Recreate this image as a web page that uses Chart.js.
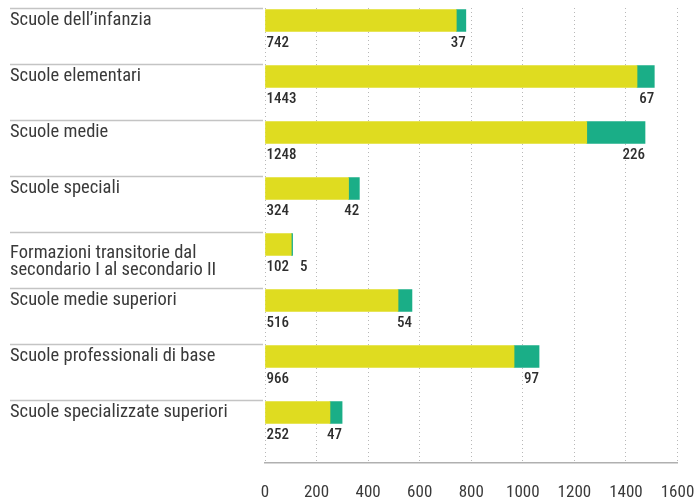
<!DOCTYPE html>
<html>
<head>
<meta charset="utf-8">
<script src="https://cdn.jsdelivr.net/npm/chart.js@4.4.1/dist/chart.umd.min.js"></script>
<style>
  html, body { margin: 0; padding: 0; background: #fff; }
  #wrap { width: 696px; height: 501px; position: relative; }
</style>
</head>
<body>
<div id="wrap"><canvas id="chart"></canvas></div>
<script>
// categories (two-line label padded with blank lines so it hangs below the bar centre)
const categories = [
    'Scuole dell’infanzia',
    'Scuole elementari',
    'Scuole medie',
    'Scuole speciali',
    ['', '', 'Formazioni transitorie dal', 'secondario I al secondario II'],
    'Scuole medie superiori',
    'Scuole professionali di base',
    'Scuole specializzate superiori'
];
const yellowValues = [742, 1443, 1248, 324, 102, 516, 966, 252];
const greenValues = [37, 67, 226, 42, 5, 54, 97, 47];
const xTicks = [0, 200, 400, 600, 800, 1000, 1200, 1400, 1600];

const FONT = "'Roboto Condensed', 'Liberation Sans Narrow', 'DejaVu Sans Condensed', 'Roboto', sans-serif";
const TEXT = '#3a3a3a';

// separators above each row + value labels under each bar
const rowDecor = {
    id: 'rowDecor',
    afterDatasetsDraw(chart) {
        const ctx = chart.ctx;
        const yellowMeta = chart.getDatasetMeta(0);
        const greenMeta = chart.getDatasetMeta(1);
        ctx.save();
        yellowMeta.data.forEach((bar, i) => {
            const top = bar.y - bar.height / 2;
            // grey rule above the category label
            ctx.strokeStyle = '#c4c4c4';
            ctx.lineWidth = 1.5;
            ctx.beginPath();
            ctx.moveTo(10, top - 1);
            ctx.lineTo(chart.chartArea.left - 2, top - 1);
            ctx.stroke();

            ctx.font = '500 15px ' + FONT;
            ctx.fillStyle = '#2e2e2e';
            ctx.textBaseline = 'middle';
            const ty = bar.y + 22.5;
            const first = String(yellowValues[i]);
            ctx.textAlign = 'left';
            ctx.fillText(first, bar.base + 1, ty);
            const firstRight = bar.base + 1 + ctx.measureText(first).width;

            const g = greenMeta.data[i];
            const second = String(greenValues[i]);
            const w = ctx.measureText(second).width;
            const right = Math.max(g.x, firstRight + 11 + w);
            ctx.textAlign = 'right';
            ctx.fillText(second, right, ty);
        });
        ctx.restore();
    }
};

new Chart(document.getElementById('chart'), {
    type: 'bar',
    data: {
        datasets: [
            {
                label: 'Serie 1',
                data: yellowValues.map((v, i) => ({ x: v, y: i })),
                backgroundColor: '#dfdc20',
                barThickness: 22
            },
            {
                label: 'Serie 2',
                data: greenValues.map((v, i) => ({ x: v, y: i })),
                backgroundColor: '#1aae87',
                barThickness: 22
            }
        ]
    },
    options: {
        indexAxis: 'y',
        responsive: true,
        maintainAspectRatio: false,
        animation: false,
        layout: { padding: { left: 10, right: 18.5, top: 8, bottom: 0 } },
        plugins: {
            legend: { display: false },
            tooltip: { enabled: false }
        },
        scales: {
            x: {
                type: 'linear',
                stacked: true,
                min: 0,
                max: 1600,
                afterBuildTicks: (s) => { s.ticks = xTicks.map(v => ({ value: v })); },
                afterFit: (s) => { s.height = 38; s.paddingLeft = 0; s.paddingRight = 0; },
                grid: { color: '#b8b8b8', lineWidth: 1, drawTicks: false },
                border: { display: true, color: '#b0b0b0', width: 1.5, dash: [1, 3] },
                ticks: {
                    padding: 20,
                    color: TEXT,
                    font: { family: FONT, size: 17 },
                    callback: (v) => String(v)
                }
            },
            y: {
                type: 'linear',
                stacked: true,
                reverse: true,
                offset: false,
                min: -0.223,
                max: 7.902,
                afterBuildTicks: (s) => { s.ticks = categories.map((_, i) => ({ value: i })); },
                afterFit: (s) => { s.width = 255; s.paddingTop = 0; s.paddingBottom = 0; },
                grid: { display: false },
                border: { display: false },
                ticks: {
                    autoSkip: false,
                    crossAlign: 'far',
                    color: TEXT,
                    font: { family: FONT, size: 18.5, lineHeight: 0.92 },
                    callback: (v) => categories[v]
                }
            }
        }
    },
    plugins: [rowDecor]
});
</script>
</body>
</html>
